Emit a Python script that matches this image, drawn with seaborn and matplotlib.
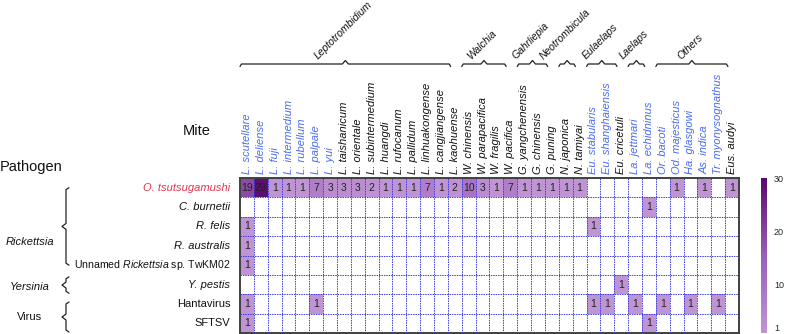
import matplotlib
matplotlib.use("Agg")
import matplotlib.pyplot as plt
from matplotlib.colors import LinearSegmentedColormap
import numpy as np
import pandas as pd
import seaborn as sns

# 螨种（列）
mites = [
    "L. scutellare", "L. deliense", "L. fuji", "L. intermedium", "L. rubellum",
    "L. palpale", "L. yui", "L. taishanicum", "L. orientale", "L. subintermedium",
    "L. huangdi", "L. rufocanum", "L. pallidum", "L. linhuakongense",
    "L. cangjiangense", "L. kaohuense", "W. chinensis", "W. parapacifica",
    "W. fragilis", "W. pacifica", "G. yangchenensis", "G. chinensis", "G. puning",
    "N. japonica", "N. tamiyai", "Eu. stabularis", "Eu. shanghaiensis",
    "Eu. cricetuli", "La. jettmari", "La. echidninus", "Or. bacoti",
    "Od. majesticus", "Ha. glasgowi", "As. indica", "Tr. myonysognathus",
    "Eus. audyi",
]
blue_mites = [
    "L. scutellare", "L. deliense", "L. fuji", "L. intermedium", "L. rubellum",
    "L. palpale", "L. yui", "Eu. stabularis", "Eu. shanghaiensis",
    "La. jettmari", "La. echidninus", "Or. bacoti", "Od. majesticus",
    "Ha. glasgowi", "As. indica", "Tr. myonysognathus",
]
genus_names = ["Leptotrombidium", "Walchia", "Gahrliepia", "Neotrombicula",
               "Eulaelaps", "Laelaps", "Others"]
genus_sizes = [16, 4, 3, 2, 3, 2, 6]

# 病原体（行）
pathogens = ["O. tsutsugamushi", "C. burnetii", "R. felis", "R. australis",
             "Unnamed Rickettsia sp. TwKM02", "Y. pestis", "Hantavirus", "SFTSV"]
pathogen_labels = ["O. tsutsugamushi", "C. burnetii", "R. felis", "R. australis",
                   r"Unnamed $\mathit{Rickettsia}$ sp. TwKM02", "Y. pestis",
                   "Hantavirus", "SFTSV"]
italic_rows = ["O. tsutsugamushi", "C. burnetii", "R. felis", "R. australis", "Y. pestis"]

o_tsutsugamushi = [19, 29, 1, 1, 1, 7, 3, 3, 3, 2, 1, 1, 1, 7, 1, 2, 10, 3, 1, 7,
                   1, 1, 1, 1, 1, 0, 0, 0, 0, 0, 0, 1, 0, 1, 0, 1]
c_burnetii = [0] * 29 + [1] + [0] * 6
r_felis = [1] + [0] * 24 + [1] + [0] * 10
r_australis = [1] + [0] * 35
unnamed_rickettsia = [1] + [0] * 35
y_pestis = [0] * 27 + [1] + [0] * 8
hantavirus = [1, 0, 0, 0, 0, 1, 0, 0, 0, 0, 0, 0, 0, 0, 0, 0, 0, 0, 0, 0,
              0, 0, 0, 0, 0, 1, 1, 0, 1, 0, 1, 0, 1, 0, 1, 0]
sftsv = [1] + [0] * 28 + [1] + [0] * 6

# 左侧分组
side_groups = ["Rickettsia", "Yersinia", "Virus"]
side_spans = [(0.5, 4.5), (5.1, 5.95), (6.4, 7.95)]
side_label_rows = [3.3, 5.6, 7.15]
side_italic = [True, True, False]

counts = pd.DataFrame(
    [o_tsutsugamushi, c_burnetii, r_felis, r_australis, unnamed_rickettsia,
     y_pestis, hantavirus, sftsv],
    index=pathogens, columns=mites,
)

sns.set_style("white")
plt.rcParams["font.family"] = ["Liberation Sans", "DejaVu Sans"]
plt.rcParams["mathtext.fontset"] = "custom"
plt.rcParams["mathtext.rm"] = "Liberation Sans"
plt.rcParams["mathtext.it"] = "Liberation Sans:italic"

W, H = 787, 334
fig = plt.figure(figsize=(W / 100, H / 100), dpi=100)


def px_rect(x0, y0, x1, y1):
    return [x0 / W, 1 - y1 / H, (x1 - x0) / W, (y1 - y0) / H]


ax = fig.add_axes(px_rect(240, 178, 739, 333))
cax = fig.add_axes(px_rect(761, 178, 767, 333))

cmap = LinearSegmentedColormap.from_list("mite", ["#bf94d5", "#9a5fb6", "#570a6c"])
sns.heatmap(counts, mask=counts == 0, cmap=cmap, vmin=1, vmax=30,
            annot=True, fmt="d", annot_kws=dict(size=7.5, color="#222222"),
            cbar_ax=cax, cbar_kws=dict(ticks=[1, 10, 20, 30]),
            xticklabels=True, yticklabels=True, linewidths=0, ax=ax)

# 蓝色虚线网格
for i in range(1, len(mites)):
    ax.axvline(i, color="#3b3bdc", lw=0.7, ls=(0, (1.5, 1.0)), zorder=3)
for j in range(1, len(pathogens)):
    ax.axhline(j, color="#3b3bdc", lw=0.7, ls=(0, (1.5, 1.0)), zorder=3)
for s in ax.spines.values():
    s.set_visible(True)
    s.set_color("#404040")
    s.set_linewidth(1.4)

ax.set_xlabel("")
ax.set_ylabel("")
ax.xaxis.tick_top()
ax.set_xticks(np.arange(len(mites)) + 0.5)
ax.set_xticklabels(mites, rotation=90, fontsize=8, style="italic")
for lbl in ax.get_xticklabels():
    lbl.set_color("#4a6cf2" if lbl.get_text() in blue_mites else "#111111")
ax.set_yticks(np.arange(len(pathogens)) + 0.5)
ax.set_yticklabels(pathogen_labels, rotation=0, fontsize=8)
for lbl, name in zip(ax.get_yticklabels(), pathogens):
    if name in italic_rows:
        lbl.set_style("italic")
    if name.startswith("Unnamed"):
        lbl.set_fontsize(7.6)
    lbl.set_color("#e2334b" if name == "O. tsutsugamushi" else "#111111")
ax.tick_params(axis="x", length=0, pad=3)
ax.tick_params(axis="y", length=0, pad=7)

cbar = ax.collections[0].colorbar
cbar.outline.set_visible(False)
cax.tick_params(length=0, labelsize=6.5, pad=5)
cax.get_yticklabels()[0].set_verticalalignment("bottom")

# 注释层（像素坐标）
ov = fig.add_axes([0, 0, 1, 1])
ov.set_xlim(0, W)
ov.set_ylim(H, 0)
ov.axis("off")
ov.patch.set_visible(False)


def col_px(c):
    return ax.transData.transform((c, 0))[0]


def row_px(r):
    return H - ax.transData.transform((0, r))[1]


line_kw = dict(color="#222222", lw=0.9, solid_capstyle="round")

start = 0
for name, size in zip(genus_names, genus_sizes):
    x0 = col_px(start)
    x1 = col_px(start + size - 0.8)
    xm = (x0 + x1) / 2
    y = 64
    ov.plot([x0, x0 + 1.5, xm - 3, xm, xm + 3, x1 - 1.5, x1],
            [y + 2.5, y, y, y - 3.5, y, y, y + 2.5], **line_kw)
    ov.text(xm - 2, y - 2.5, name, rotation=45, ha="center", va="bottom",
            fontsize=7.5, style="italic", color="#111111")
    start += size

xv = 66
for name, (r0, r1), lr, it in zip(side_groups, side_spans, side_label_rows, side_italic):
    y0, y1 = row_px(r0), row_px(r1)
    ym = (y0 + y1) / 2
    ov.plot([xv + 3, xv, xv, xv - 4, xv, xv, xv + 3],
            [y0, y0 + 2, ym - 3, ym, ym + 3, y1 - 2, y1], **line_kw)
    ov.text(30, row_px(lr), name, ha="center", va="center", fontsize=8,
            style="italic" if it else "normal", color="#111111")

ov.text(197, 131, "Mite", ha="center", va="center", fontsize=10.5, color="#111111")
ov.text(0, 167, "Pathogen", ha="left", va="center", fontsize=10.5, color="#111111")

fig.savefig("out.png", dpi=100)
